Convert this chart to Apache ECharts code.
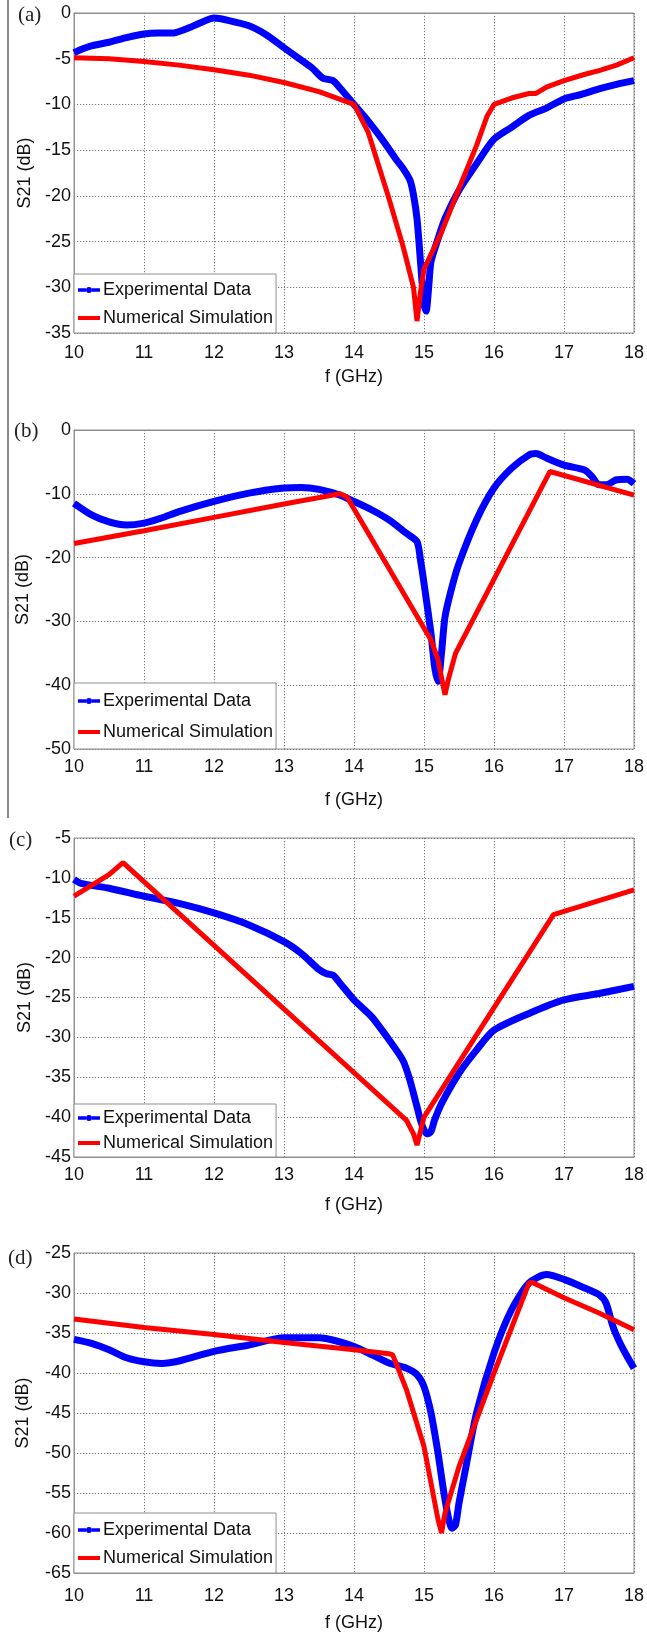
<!DOCTYPE html>
<html>
<head>
<meta charset="utf-8">
<script src="https://cdn.jsdelivr.net/npm/echarts@6/dist/echarts.min.js"></script>
<style>
html,body{margin:0;padding:0;background:#fff;}
#c{width:647px;height:1633px;}
</style>
</head>
<body>
<div id="c"></div>
<script>
// ---------- Data ----------
var xTicks = [10, 11, 12, 13, 14, 15, 16, 17, 18];
var legendNames = ['Experimental Data', 'Numerical Simulation'];
var panelLetters = ['(a)', '(b)', '(c)', '(d)'];
var yRanges = [[-35, 0, 5], [-50, 0, 10], [-45, -5, 5], [-65, -25, 5]];

// (a)
var aExpF = [10, 10.1, 10.25, 10.5, 10.75, 11, 11.2, 11.4, 11.6, 11.8, 12, 12.2, 12.5, 12.75, 13, 13.2, 13.4, 13.55, 13.7, 13.8, 14, 14.2, 14.4, 14.6, 14.7, 14.8, 14.85, 14.9, 14.95, 15.0, 15.03, 15.07, 15.1, 15.2, 15.3, 15.5, 15.75, 16, 16.25, 16.5, 16.75, 17, 17.25, 17.5, 17.75, 18];
var aExpS = [-4.35, -4.0, -3.6, -3.2, -2.7, -2.3, -2.2, -2.2, -1.75, -1.1, -0.55, -0.8, -1.4, -2.4, -3.8, -4.9, -6.0, -7.1, -7.4, -8.2, -10, -11.8, -13.8, -16, -17, -18.3, -19.9, -22.5, -27.2, -31.9, -32.6, -29.7, -27.2, -24.7, -22.5, -19.4, -16.5, -13.8, -12.5, -11.2, -10.4, -9.4, -8.9, -8.3, -7.8, -7.4];
var aSimF = [10, 10.5, 11, 11.5, 12, 12.5, 13, 13.5, 14, 14.2, 14.5, 14.7, 14.85, 14.9, 14.95, 15.0, 15.25, 15.5, 15.75, 15.9, 16.0, 16.25, 16.5, 16.6, 16.75, 17, 17.3, 17.5, 17.75, 18];
var aSimS = [-4.9, -5.0, -5.3, -5.7, -6.2, -6.8, -7.6, -8.6, -10, -13, -20.3, -25.5, -30, -33.7, -30.5, -28, -24, -19.2, -14.5, -11.3, -10, -9.3, -8.8, -8.8, -8.1, -7.4, -6.7, -6.3, -5.7, -4.9];

// (b)
var bExpF = [10, 10.25, 10.5, 10.75, 11, 11.25, 11.5, 12, 12.5, 13, 13.25, 13.5, 13.8, 14, 14.25, 14.5, 14.75, 14.9, 14.95, 15.0, 15.1, 15.15, 15.2, 15.25, 15.3, 15.4, 15.5, 15.75, 16, 16.25, 16.5, 16.6, 16.75, 17, 17.3, 17.4, 17.5, 17.6, 17.75, 17.9, 18];
var bExpS = [-11.5, -13.3, -14.4, -14.9, -14.6, -13.8, -12.8, -11.2, -9.9, -9.1, -9.0, -9.3, -10.2, -11.2, -12.5, -14.1, -16.2, -17.5, -20.4, -24, -31.9, -37, -39.4, -35, -29.3, -24.6, -20.9, -14.1, -9.1, -6.0, -3.9, -3.7, -4.4, -5.5, -6.3, -7.3, -8.6, -8.6, -7.8, -7.7, -8.4];
var bSimF = [10, 11, 12, 13, 13.8, 13.9, 15.1, 15.2, 15.3, 15.35, 15.45, 16.8, 18];
var bSimS = [-17.8, -15.8, -13.7, -11.6, -10.0, -10.5, -32.9, -36, -41.5, -39, -35, -6.5, -10.2];

// (c)
var cExpF = [10, 10.1, 10.5, 11, 11.5, 12, 12.5, 13, 13.25, 13.5, 13.6, 13.7, 13.8, 14, 14.25, 14.5, 14.7, 14.8, 14.9, 14.95, 15.0, 15.05, 15.1, 15.15, 15.25, 15.5, 15.75, 16, 16.5, 17, 17.5, 18];
var cExpS = [-10.2, -10.7, -11.3, -12.3, -13.2, -14.4, -15.9, -18, -19.5, -21.5, -22, -22.2, -23.2, -25.3, -27.4, -30.3, -32.9, -35.4, -38.7, -40.4, -41.6, -42.1, -41.8, -40.4, -38.3, -34.5, -31.6, -29.1, -27, -25.3, -24.5, -23.6];
var cSimF = [10, 10.5, 10.7, 14.75, 14.85, 14.9, 15.0, 16.85, 18];
var cSimS = [-12.3, -9.6, -8.1, -40.4, -42.1, -43.5, -40, -14.6, -11.5];

// (d)
var dExpF = [10, 10.25, 10.5, 10.75, 11, 11.25, 11.5, 12, 12.5, 13, 13.5, 13.75, 14, 14.25, 14.5, 14.75, 14.9, 15.0, 15.1, 15.2, 15.3, 15.4, 15.45, 15.5, 15.6, 15.75, 16, 16.25, 16.5, 16.75, 17, 17.25, 17.5, 17.6, 17.7, 17.8, 17.9, 18];
var dExpS = [-35.8, -36.3, -37.1, -38.1, -38.6, -38.8, -38.5, -37.3, -36.5, -35.6, -35.6, -36, -36.7, -37.7, -38.75, -39.4, -40.2, -41.7, -45, -50, -55.8, -59.4, -59, -56.25, -51.7, -45, -37.5, -32.1, -28.75, -27.7, -28.3, -29.2, -30.2, -31.25, -34.2, -36.25, -37.9, -39.4];
var dSimF = [10, 11, 12, 13, 14, 14.5, 14.55, 14.6, 14.75, 15.0, 15.2, 15.25, 15.3, 15.5, 16, 16.5, 16.55, 17, 17.5, 18];
var dSimS = [-33.25, -34.3, -35.2, -36.2, -37.1, -37.6, -37.7, -38.75, -42.1, -49.2, -58.3, -60, -57.5, -51.7, -40, -28.75, -28.7, -30.6, -32.5, -34.6];

var expF = [aExpF, bExpF, cExpF, dExpF];
var expS = [aExpS, bExpS, cExpS, dExpS];
var simF = [aSimF, bSimF, cSimF, dSimF];
var simS = [aSimS, bSimS, cSimS, dSimS];

// ---------- Layout ----------
var FONT = "'Liberation Sans', Arial, sans-serif";
var grids = [
  {top: 13, height: 320},
  {top: 430, height: 319},
  {top: 838, height: 319},
  {top: 1253, height: 320}
];
var xLabelMargin = [11, 9, 9, 14];
var xNameGap = [35, 42, 39, 41];
var yNameGap = [34, 42, 38, 42];
var legendTop = [274, 683, 1104, 1513];
var legendPad = [[7, 3, 6, 4], [9, 3, 8, 4], [5, 3, 5, 4], [8, 3, 6, 4]];
var legendGap = [10, 13, 7, 10];
var letterPos = [[30, 17], [26, 433], [21, 842], [20, 1260]];

var ICON_EXP = 'path://M0,1.2H8V4.8H0Z M14,1.2H22V4.8H14Z M8,3a3,3 0 1,1 6,0a3,3 0 1,1 -6,0Z';
var ICON_SIM = 'path://M0,0M0,6M0,1H22V5H0Z';

function pairs(f, s) { return f.map(function (v, i) { return [v, s[i]]; }); }

var option = {
  backgroundColor: '#fff',
  animation: false,
  grid: [], xAxis: [], yAxis: [], series: [], legend: [],
  graphic: [{
    type: 'rect', shape: {x: 7, y: 0, width: 2, height: 818},
    style: {fill: '#8a8a8a'}
  }]
};

for (var i = 0; i < 4; i++) {
  option.grid.push({
    left: 74, right: 11, top: grids[i].top, height: grids[i].height,
    show: true, borderColor: '#8f8f8f', borderWidth: 1, backgroundColor: '#fff'
  });
  option.xAxis.push({
    type: 'value', gridIndex: i, min: xTicks[0], max: xTicks[xTicks.length - 1], interval: 1,
    name: 'f (GHz)', nameLocation: 'middle', nameGap: xNameGap[i],
    nameTextStyle: {fontSize: 18, fontFamily: FONT, color: '#111'},
    axisLine: {show: true, lineStyle: {color: '#8f8f8f'}},
    axisTick: {show: false},
    axisLabel: {fontSize: 18, fontFamily: FONT, color: '#111', margin: xLabelMargin[i]},
    splitLine: {show: true, lineStyle: {color: '#7a7a7a', type: [1.2, 1.8], width: 1}}
  });
  option.yAxis.push({
    type: 'value', gridIndex: i, min: yRanges[i][0], max: yRanges[i][1], interval: yRanges[i][2],
    name: 'S21 (dB)', nameLocation: 'middle', nameGap: yNameGap[i],
    nameTextStyle: {fontSize: 18, fontFamily: FONT, color: '#111'},
    axisLine: {show: true, lineStyle: {color: '#8f8f8f'}},
    axisTick: {show: false},
    axisLabel: {fontSize: 18, fontFamily: FONT, color: '#111', margin: 3, showMinLabel: true, showMaxLabel: true},
    splitLine: {show: true, lineStyle: {color: '#7a7a7a', type: [1.2, 1.8], width: 1}}
  });
  option.series.push({
    name: legendNames[0], type: 'line', xAxisIndex: i, yAxisIndex: i,
    data: pairs(expF[i], expS[i]),
    symbol: 'circle', symbolSize: 6, showSymbol: false, smooth: 0.25,
    lineStyle: {color: '#0000ff', width: 7}, itemStyle: {color: '#0000ff'}, z: 3
  });
  option.series.push({
    name: legendNames[1], type: 'line', xAxisIndex: i, yAxisIndex: i,
    data: pairs(simF[i], simS[i]),
    symbol: 'none', smooth: false,
    lineStyle: {color: '#ff0000', width: 5}, itemStyle: {color: '#ff0000'}, z: 4
  });
  option.legend.push({
    data: [{name: legendNames[0], icon: ICON_EXP}, {name: legendNames[1], icon: ICON_SIM}],
    orient: 'vertical', left: 74, top: legendTop[i],
    itemWidth: 22, itemHeight: 6, itemGap: legendGap[i], padding: legendPad[i],
    borderColor: '#8f8f8f', borderWidth: 1, backgroundColor: '#fff',
    selectedMode: false,
    textStyle: {fontSize: 18, fontFamily: FONT, color: '#111', padding: [0, 0, 0, -2]}
  });
  option.graphic.push({
    type: 'text', left: letterPos[i][0] - 12, top: letterPos[i][1] - 12,
    style: {text: panelLetters[i], font: "21px 'Liberation Serif', 'Times New Roman', serif", fill: '#222'}
  });
}

var chart = echarts.init(document.getElementById('c'), null, {renderer: 'canvas', width: 647, height: 1633});
chart.setOption(option);
</script>
</body>
</html>
